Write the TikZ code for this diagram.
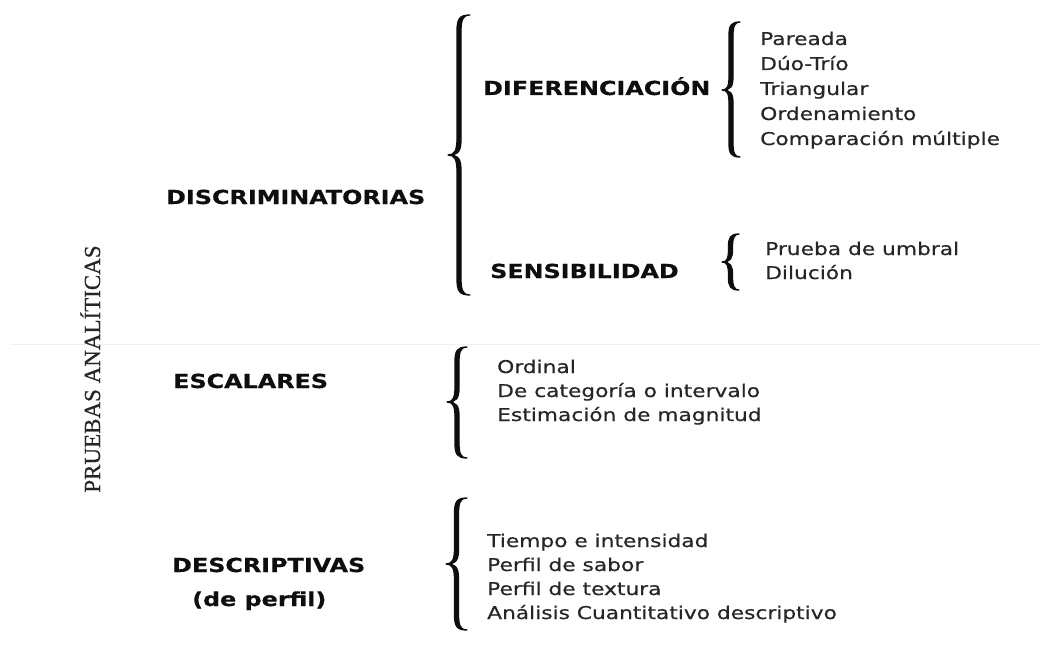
\documentclass[tikz,border=0pt]{standalone}
\usepackage{fontspec}
\newfontfamily\vfont[FakeStretch=1.235, FakeBold=0.5]{DejaVu Sans}
\newfontfamily\tfont[FakeBold=0.6]{Liberation Serif}
\definecolor{txt}{HTML}{262626}
\definecolor{hd}{HTML}{0E0E0E}
\newcommand\curlyb[5]{% xe yt yb xt ym
 \pgfmathsetmacro\cbd{#1-#4}%
 \pgfmathsetmacro\cbm{(#1+#4)/2}%
 \pgfmathsetmacro\cba{\cbm-2}%
 \pgfmathsetmacro\cbb{\cbm+2}%
 \pgfmathsetmacro\cbh{0.75*\cbd}%
 \pgfmathsetmacro\cbk{0.2*\cbd}%
 \filldraw[bracefill] (#1,#2) .. controls (\cba+2,#2) and (\cba,#2+\cbk) .. (\cba,#2+\cbh)
   -- (\cba,#5-\cbh) .. controls (\cba,#5-\cbk) and (\cbm-\cbk,#5) .. (#4,#5)
   .. controls (\cbm-\cbk,#5) and (\cba,#5+\cbk) .. (\cba,#5+\cbh)
   -- (\cba,#3-\cbh) .. controls (\cba,#3-\cbk) and (\cba+2,#3) .. (#1,#3)
   .. controls (\cbb+2,#3) and (\cbb,#3-\cbk) .. (\cbb,#3-\cbh)
   -- (\cbb,#5+\cbh) .. controls (\cbb,#5+\cbk) and (\cbm,#5) .. (#4,#5)
   .. controls (\cbm,#5) and (\cbb,#5-\cbk) .. (\cbb,#5-\cbh)
   -- (\cbb,#2+\cbh) .. controls (\cbb,#2+\cbk) and (\cbb+2,#2) .. (#1,#2) -- cycle;
}
\tikzset{
  head/.style={font=\vfont\bfseries\fontsize{19.3}{22}\selectfont, text=hd, anchor=base west, inner sep=0pt},
  item/.style={font=\vfont\fontsize{17.6}{20}\selectfont, text=txt, anchor=base west, inner sep=0pt},
  bracefill/.style={fill=hd, draw=hd, line width=1.3pt, line join=round},
  vtitle/.style={font=\tfont\fontsize{23}{26}\selectfont, text=txt, rotate=90, anchor=base, inner sep=0pt}
}
\begin{document}
\begin{tikzpicture}[x=1pt,y=-1pt]
\useasboundingbox[fill=white] (0,0) rectangle (1048,663);
% faint scan line
\draw[black!6, line width=1pt] (10,344) -- (1040,344);
% title
\node[vtitle] (title) at (100,369) {PRUEBAS ANALÍTICAS};
% level 1
\node[head] (disc) at (166,204) {DISCRIMINATORIAS};
\node[head] (esc) at (173,388) {ESCALARES};
\node[head] (desc) at (172,572) {DESCRIPTIVAS};
\node[head] (desc2) at (192,606) {(de perfil)};
% level 2
\node[head] (dif) at (483,95) {DIFERENCIACIÓN};
\node[head] (sens) at (490,278) {SENSIBILIDAD};
% diferenciacion list
\node[item] (d1) at (760,45) {Pareada};
\node[item] (d2) at (760,70) {Dúo-Trío};
\node[item] (d3) at (760,95) {Triangular};
\node[item] (d4) at (760,120) {Ordenamiento};
\node[item] (d5) at (760,145) {Comparación múltiple};
% sensibilidad list
\node[item] (s1) at (765,255) {Prueba de umbral};
\node[item] (s2) at (765,279) {Dilución};
% escalares list
\node[item] (e1) at (497,373) {Ordinal};
\node[item] (e2) at (497,397) {De categoría o intervalo};
\node[item] (e3) at (497,421) {Estimación de magnitud};
% descriptivas list
\node[item] (p1) at (487,547) {Tiempo e intensidad};
\node[item] (p2) at (487,571) {Perfil de sabor};
\node[item] (p3) at (487,595) {Perfil de textura};
\node[item] (p4) at (487,619) {Análisis Cuantitativo descriptivo};
% braces
\curlyb{470}{15}{295}{448}{155}
\curlyb{740}{22}{157}{722}{90}
\curlyb{739}{234}{290}{722}{262}
\curlyb{467}{347}{458}{447}{402}
\curlyb{467}{498}{630}{446}{564}
\end{tikzpicture}
\end{document}
